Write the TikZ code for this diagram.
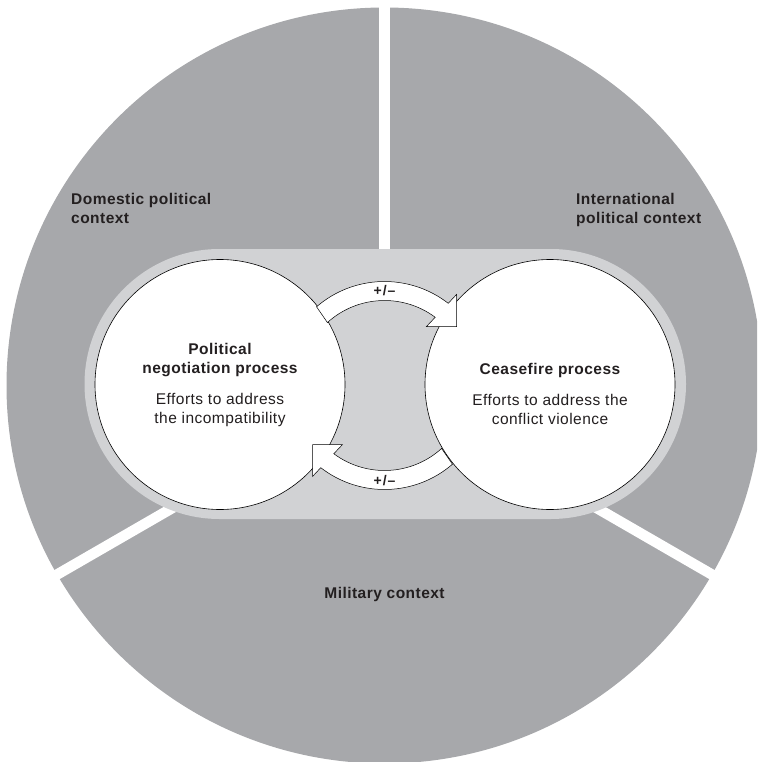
\documentclass[tikz,border=0pt]{standalone}
\usepackage{fontspec}
\setmainfont{Liberation Sans}[LetterSpace=3]
\definecolor{outerg}{HTML}{A7A8AB}
\definecolor{innerg}{HTML}{D1D2D4}
\definecolor{ink}{HTML}{231F20}
\tikzset{
  ctxlabel/.style={font=\bfseries\fontsize{15.5}{19}\selectfont, text=ink, inner sep=0pt},
  procbox/.style={circle, draw=black, line width=0.6pt, fill=white, minimum size=250pt, inner sep=0pt},
  titletxt/.style={font=\bfseries\fontsize{15.5}{19}\selectfont, text=ink, align=center, inner sep=0pt},
  bodytxt/.style={font=\fontsize{15.5}{19}\selectfont, text=ink, align=center, inner sep=0pt},
  bandarrow/.style={fill=white, draw=black, line width=0.5pt, line join=miter},
  signtxt/.style={font=\bfseries\fontsize{14}{16}\selectfont, text=ink, inner sep=0pt},
  gapline/.style={white, line width=10.5pt}
}
\begin{document}
\begin{tikzpicture}[x=1pt,y=1pt]
\useasboundingbox (0,0) rectangle (757,-762);
\clip (0,0) rectangle (757,-762);
\coordinate (C) at (384.5,-385.5);
\fill[outerg] (C) circle[radius=378];
\draw[gapline] (C) -- ++(90:400);
\draw[gapline] (C) -- ++(210:400);
\draw[gapline] (C) -- ++(330:400);
\fill[innerg, rounded corners=135pt] (84.5,-249) rectangle (686,-519);
\node[procbox] (pol) at (220,-384.5) {};
\node[procbox] (cea) at (550,-384.5) {};
\begin{scope}[shift={(C)}]
  \draw[bandarrow] (130.8:104) arc[start angle=130.8, end angle=52.2, radius=104]
    -- (72,91) -- (72,59) -- (42,59) -- (53.4:85)
    arc[start angle=53.4, end angle=132.2, radius=85] -- cycle;
  \node[signtxt] (s1) at (0,95) {+\kern1pt/\kern1pt–};
\end{scope}
\begin{scope}[shift={(C)}, rotate=180]
  \draw[bandarrow] (130.8:104) arc[start angle=130.8, end angle=52.2, radius=104]
    -- (72,91) -- (72,59) -- (42,59) -- (53.4:85)
    arc[start angle=53.4, end angle=132.2, radius=85] -- cycle;
\end{scope}
\node[signtxt] (s2) at (384.5,-481) {+\kern1pt/\kern1pt–};
\node[ctxlabel, anchor=base west, align=left] (dom) at (71,-223.5) {Domestic political\\context};
\node[ctxlabel, anchor=base west, align=left] (intl) at (576,-223.5) {International\\political context};
\node[ctxlabel, anchor=base] (mil) at (384.5,-598) {Military context};
\node[titletxt, anchor=base] (polt) at (220,-373) {Political\\negotiation process};
\node[bodytxt, anchor=base] (polb) at (220,-423) {Efforts to address\\the incompatibility};
\node[titletxt, anchor=base] (ceat) at (550,-374) {Ceasefire process};
\node[bodytxt, anchor=base] (ceab) at (550,-424) {Efforts to address the\\conflict violence};
\end{tikzpicture}
\end{document}
